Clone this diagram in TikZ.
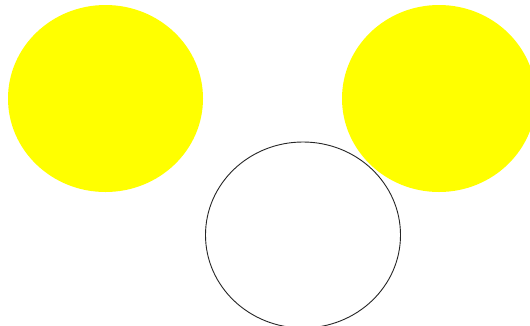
\documentclass[tikz,border=0pt]{standalone}
\definecolor{sunyellow}{RGB}{255,255,0}
\begin{document}
\begin{tikzpicture}[x=1pt,y=-1pt,
  sun/.style={fill=sunyellow,draw=none},
  ring/.style={draw=black!85,line width=0.9pt}]
\useasboundingbox (0,0) rectangle (530,325);
\fill[white] (0,0) rectangle (530,325);
\begin{scope}
\clip (0,0) rectangle (530,325);
\path[sun] (105.5,98.5) ellipse [x radius=97.5, y radius=93.5];
\path[sun] (439,98.5) ellipse [x radius=97, y radius=93.5];
\path[ring] (303,235) ellipse [x radius=97.5, y radius=93];
\end{scope}
\end{tikzpicture}
\end{document}
